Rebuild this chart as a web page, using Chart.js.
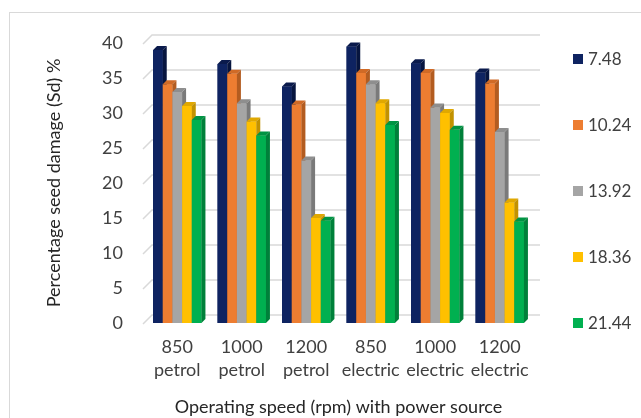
<!DOCTYPE html>
<html>
<head>
<meta charset="utf-8">
<script src="https://cdn.jsdelivr.net/npm/chart.js@4"></script>
<style>
  html, body { margin: 0; padding: 0; background: #fff; }
  #wrap { position: relative; width: 641px; height: 418px; overflow: hidden; }
  #frame { position: absolute; left: 9px; top: 12px; width: 700px; height: 500px; border: 1px solid #d9d9d9; box-sizing: border-box; }
  canvas { position: absolute; left: 0; top: 0; }
</style>
</head>
<body>
<div id="wrap">
  <div id="frame"></div>
  <canvas id="c" width="641" height="418"></canvas>
</div>
<script>
const categories = [['850', 'petrol'], ['1000', 'petrol'], ['1200', 'petrol'], ['850', 'electric'], ['1000', 'electric'], ['1200', 'electric']];
const seriesNames = ['7.48', '10.24', '13.92', '18.36', '21.44'];
const s748  = [39.0, 37.0, 33.8, 39.5, 37.1, 35.8];
const s1024 = [34.1, 35.6, 31.2, 35.7, 35.7, 34.2];
const s1392 = [33.0, 31.4, 23.2, 34.1, 30.8, 27.3];
const s1836 = [31.0, 28.8, 15.0, 31.4, 30.0, 17.2];
const s2144 = [29.0, 26.8, 14.6, 28.3, 27.6, 14.5];
const yTicks = [0, 5, 10, 15, 20, 25, 30, 35, 40];

const colors = ['#0E2361', '#ED7D31', '#A5A5A5', '#FFC000', '#00B050'];
const sideColors = ['#07153F', '#B35C20', '#7A7A7A', '#C29200', '#00803A'];
const topColors = ['#0A1A4C', '#D06A26', '#8E8E8E', '#E0A800', '#009443'];
const allSeries = [s748, s1024, s1392, s1836, s2144];

const FONT = 'Lato, "Liberation Sans", sans-serif';
const DEPTH = 4;
const WALL = 9;

const backGrid = {
  id: 'backGrid',
  beforeDatasetsDraw(chart) {
    const ctx = chart.ctx;
    const a = chart.chartArea;
    const ys = chart.scales.y;
    ctx.save();
    ctx.strokeStyle = '#d9d9d9';
    ctx.lineWidth = 1.5;
    yTicks.forEach(v => {
      const py = ys.getPixelForValue(v);
      ctx.beginPath();
      ctx.moveTo(a.left - 2, py + 1);
      ctx.lineTo(a.left - 2 + WALL, py + 1 - WALL);
      ctx.lineTo(a.right + 8, py + 1 - WALL);
      ctx.stroke();
    });
    ctx.restore();
  }
};

const bar3d = {
  id: 'bar3d',
  afterDatasetsDraw(chart) {
    const ctx = chart.ctx;
    ctx.save();
    const metas = chart.data.datasets.map((_, i) => chart.getDatasetMeta(i));
    const nCat = chart.data.labels.length;
    for (let c = 0; c < nCat; c++) {
      metas.forEach((meta, idx) => {
        const el = meta.data[c];
        el.draw(ctx, chart.chartArea);
        const { x, y, base, width } = el.getProps(['x', 'y', 'base', 'width'], true);
        const l = x - width / 2, r = x + width / 2;
        ctx.fillStyle = topColors[idx];
        ctx.beginPath();
        ctx.moveTo(l, y); ctx.lineTo(l + DEPTH, y - DEPTH); ctx.lineTo(r + DEPTH, y - DEPTH); ctx.lineTo(r, y);
        ctx.closePath(); ctx.fill();
        ctx.fillStyle = sideColors[idx];
        ctx.beginPath();
        ctx.moveTo(r, y); ctx.lineTo(r + DEPTH, y - DEPTH); ctx.lineTo(r + DEPTH, base - DEPTH); ctx.lineTo(r, base);
        ctx.closePath(); ctx.fill();
      });
    }
    ctx.restore();
  }
};

const sideLegend = {
  id: 'sideLegend',
  afterDraw(chart) {
    const ctx = chart.ctx;
    const a = chart.chartArea;
    const n = chart.data.datasets.length;
    const first = a.top + 16, last = a.bottom;
    const step = (last - first) / (n - 1);
    ctx.save();
    ctx.font = '17px ' + FONT;
    ctx.textBaseline = 'middle';
    ctx.textAlign = 'left';
    chart.data.datasets.forEach((ds, i) => {
      const cy = first + i * step;
      const bx = a.right + 41;
      ctx.fillStyle = colors[i];
      ctx.fillRect(bx, cy - 5, 10, 10);
      ctx.fillStyle = '#404040';
      ctx.fillText(ds.label, bx + 15, cy + 1);
    });
    ctx.restore();
  }
};

new Chart(document.getElementById('c'), {
  type: 'bar',
  data: {
    labels: categories,
    datasets: allSeries.map((d, i) => ({
      label: seriesNames[i],
      data: d,
      backgroundColor: colors[i],
      borderWidth: 0,
      barPercentage: 1,
      categoryPercentage: 0.75
    }))
  },
  options: {
    responsive: false,
    animation: false,
    layout: { padding: { left: 40, right: 109, top: 43, bottom: 0 } },
    plugins: {
      legend: { display: false },
      tooltip: { enabled: false }
    },
    scales: {
      x: {
        afterFit(scale) { scale.height = 95; },
        grid: { display: false, drawTicks: false },
        border: { display: false },
        ticks: { color: '#404040', font: { family: FONT, size: 18, lineHeight: 1.25 }, padding: 13, maxRotation: 0 },
        title: { display: true, text: 'Operating speed (rpm) with power source', color: '#262626', font: { family: FONT, size: 18 }, padding: { top: 0, bottom: 0 } }
      },
      y: {
        min: 0, max: 40,
        afterFit(scale) { scale.width = 105; },
        afterBuildTicks(scale) { scale.ticks = yTicks.map(v => ({ value: v })); },
        grid: { display: false, drawTicks: false },
        border: { display: false },
        ticks: { color: '#404040', font: { family: FONT, size: 18 }, padding: 22 },
        title: { display: true, text: 'Percentage seed damage (Sd) %', color: '#262626', font: { family: FONT, size: 18 }, padding: { top: 3, bottom: 0 } }
      }
    }
  },
  plugins: [backGrid, bar3d, sideLegend]
});
</script>
</body>
</html>
